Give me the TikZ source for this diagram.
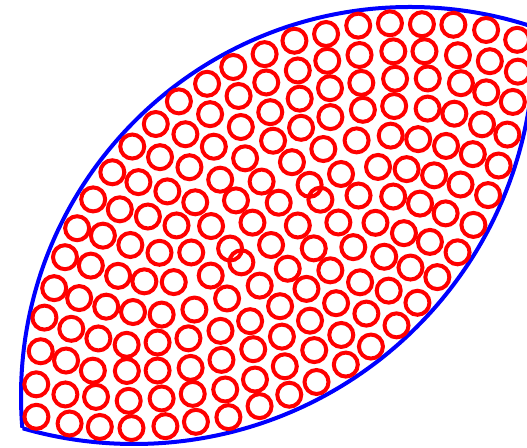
\documentclass[tikz,border=0pt]{standalone}
\usepackage{tikz}

\begin{document}
\begin{tikzpicture}[
  ring/.style={draw=red, line width=0.08cm},
  rim/.style={draw=blue, line width=0.08cm},
]

% Frame of the picture
\clip (0,0) rectangle (10.54,8.96);

% Lens: intersection of two disks
\coordinate (topc) at (8.2,1.04);
\coordinate (botc) at (2.68,8.08);
\begin{scope}
  \clip (botc) circle[radius=8.0];
  \draw[rim] (topc) circle[radius=7.78];
\end{scope}
\begin{scope}
  \clip (topc) circle[radius=7.78];
  \draw[rim] (botc) circle[radius=8.0];
\end{scope}

% Rings in layers that follow the rim, from the outside in
\pgfmathsetseed{5}
\pgfmathsetmacro{\D}{veclen(5.52,7.04)}
\pgfmathsetmacro{\angTB}{atan2(7.04,-5.52)}
\foreach \k in {0,...,5}{
  \pgfmathsetmacro{\dd}{0.32+\k*0.559}
  \pgfmathsetmacro{\ra}{7.78-\dd}
  \pgfmathsetmacro{\rb}{8.0-\dd}
  \pgfmathsetmacro{\al}{acos((\ra*\ra+\D*\D-\rb*\rb)/(2*\ra*\D))}
  \pgfmathsetmacro{\be}{acos((\rb*\rb+\D*\D-\ra*\ra)/(2*\rb*\D))}
  \pgfmathtruncatemacro{\NT}{round(\ra*2*\al*pi/180/0.655)}
  \pgfmathtruncatemacro{\NB}{round(\rb*2*\be*pi/180/0.655)}
  \pgfmathtruncatemacro{\NBm}{\NB-1}
  % upper arc, vertices included
  \foreach \m in {0,...,\NT}{
    \draw[ring] ([shift={({\angTB+\al-\m*2*\al/\NT}:\ra)},
      shift={(0.025*rand,0.025*rand)}]topc) circle[radius=0.24];
  }
  % lower arc
  \foreach \m in {1,...,\NBm}{
    \draw[ring] ([shift={({\angTB-180-\be+\m*2*\be/\NB}:\rb)},
      shift={(0.025*rand,0.025*rand)}]botc) circle[radius=0.24];
  }
}

\end{tikzpicture}
\end{document}
